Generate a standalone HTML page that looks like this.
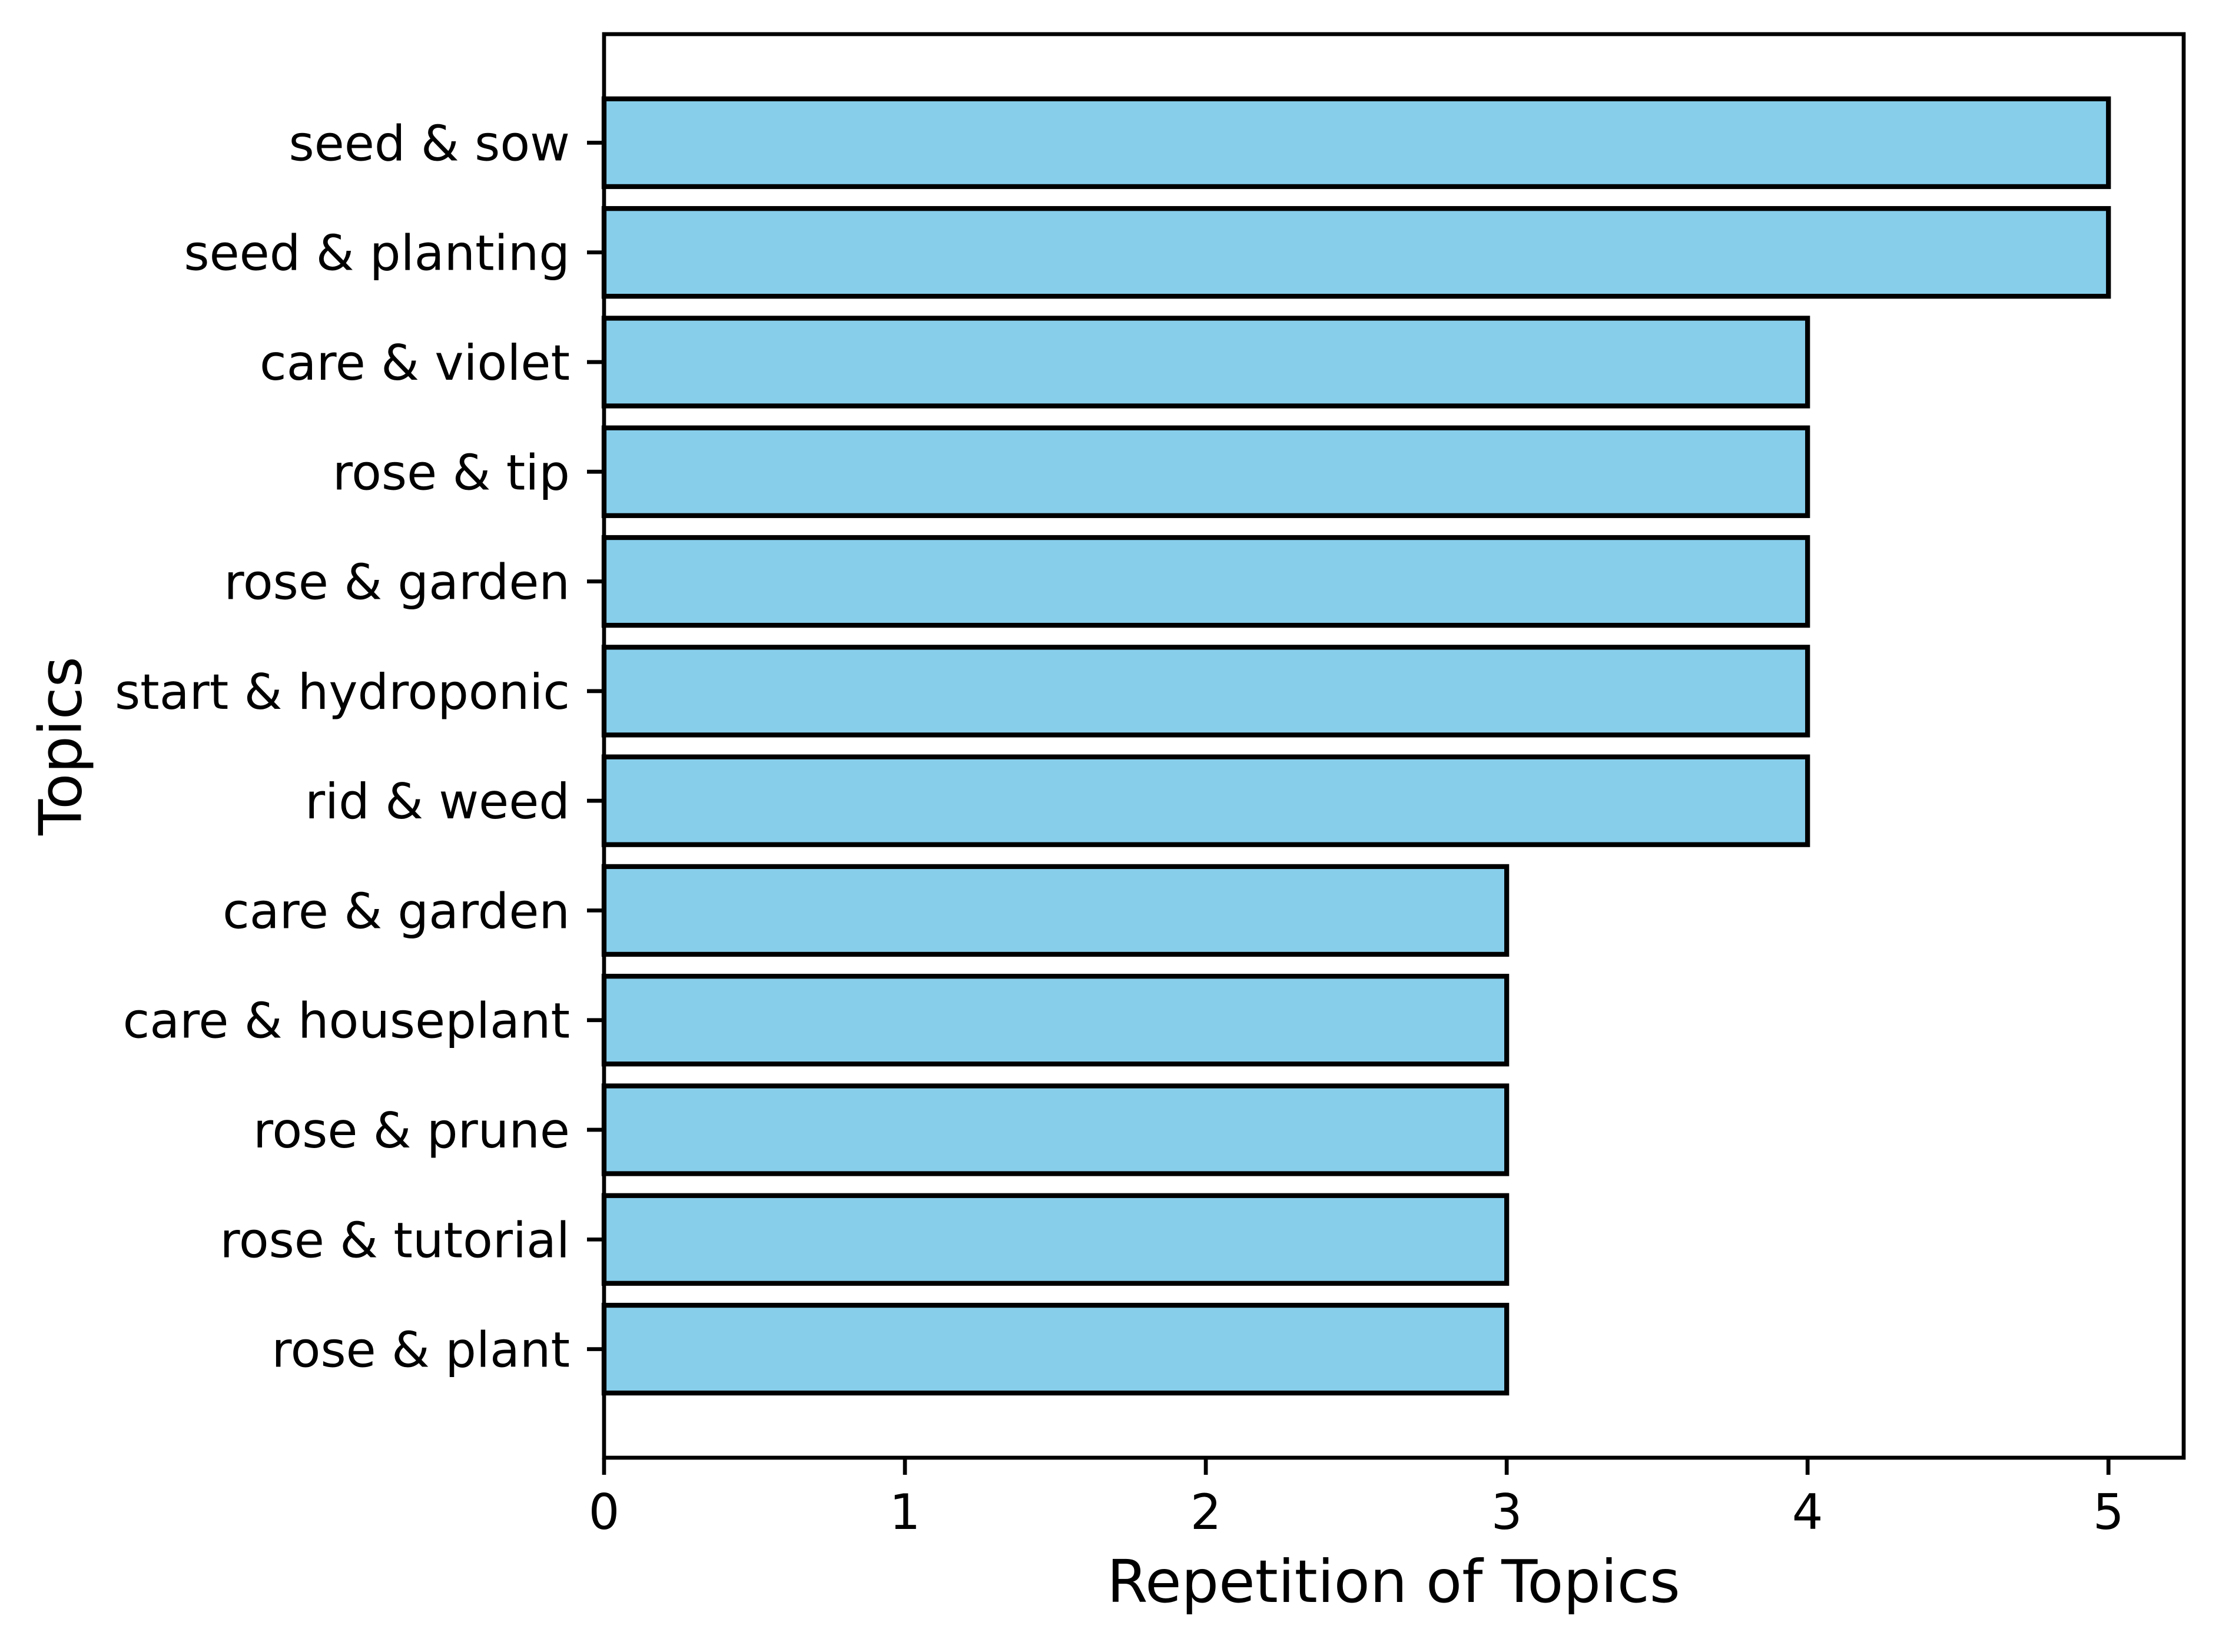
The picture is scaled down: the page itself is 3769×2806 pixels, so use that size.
<!DOCTYPE html>
<html><head><meta charset="utf-8"><style>html,body{margin:0;padding:0;background:#fff}svg{display:block}</style></head>
<body>
<svg id="chart" width="3769" height="2806" viewBox="0 0 3769 2806" xmlns="http://www.w3.org/2000/svg" font-family="'DejaVu Sans','Liberation Sans',sans-serif">
<rect x="0" y="0" width="3769" height="2806" fill="#fff"/>
<g id="bars"></g>
<g id="yticks"></g>
<g id="xticks"></g>
<rect x="1026" y="58" width="2683" height="2418" fill="none" stroke="#000" stroke-width="6.7"/>
<text x="2367" y="2721" font-size="100" text-anchor="middle">Repetition of Topics</text>
<text x="0" y="0" font-size="100" text-anchor="middle" dominant-baseline="central" transform="translate(103,1267) rotate(-90)">Topics</text>
</svg>
<script>
const categories = ["seed & sow","seed & planting","care & violet","rose & tip","rose & garden","start & hydroponic","rid & weed","care & garden","care & houseplant","rose & prune","rose & tutorial","rose & plant"];
const values = [5,5,4,4,4,4,4,3,3,3,3,3];
const xTickLabels = ["0","1","2","3","4","5"];

const NS = "http://www.w3.org/2000/svg";
const plotLeft = 1026, plotRight = 3709, plotTop = 58, plotBottom = 2476;
const xMin = 0, xMax = 5.25;
const nCat = categories.length;
const yMin = -0.4 - 0.59, yMax = (nCat - 1) + 0.4 + 0.59;
function xs(v){ return plotLeft + (v - xMin) / (xMax - xMin) * (plotRight - plotLeft); }
function ys(i){ const pos = (nCat - 1 - i); return plotBottom - (pos - yMin) / (yMax - yMin) * (plotBottom - plotTop); }
const barH = 0.8 * (plotBottom - plotTop) / (yMax - yMin);

const barsG = document.getElementById('bars');
const ytG = document.getElementById('yticks');
categories.forEach((c, i) => {
  const r = document.createElementNS(NS, 'rect');
  
  
  r.setAttribute('x', xs(0)); r.setAttribute('y', ys(i) - barH / 2);
  r.setAttribute('width', xs(values[i]) - xs(0)); r.setAttribute('height', barH);
  r.setAttribute('fill', '#87CEEB'); r.setAttribute('stroke', '#000'); r.setAttribute('stroke-width', '8.3');
  barsG.appendChild(r);
  const l = document.createElementNS(NS, 'line');
  
  
  l.setAttribute('x1', plotLeft - 29); l.setAttribute('x2', plotLeft);
  l.setAttribute('y1', ys(i)); l.setAttribute('y2', ys(i));
  l.setAttribute('stroke', '#000'); l.setAttribute('stroke-width', '6.7');
  ytG.appendChild(l);
  const t = document.createElementNS(NS, 'text');
  
  
  t.setAttribute('x', plotLeft - 58); t.setAttribute('y', ys(i) + 30);
  t.setAttribute('font-size', '83'); t.setAttribute('text-anchor', 'end');
  t.textContent = c;
  ytG.appendChild(t);
});
const xtG = document.getElementById('xticks');
xTickLabels.forEach(lbl => {
  const v = parseFloat(lbl);
  const l = document.createElementNS(NS, 'line');
  
  
  l.setAttribute('x1', xs(v)); l.setAttribute('x2', xs(v));
  l.setAttribute('y1', plotBottom); l.setAttribute('y2', plotBottom + 29);
  l.setAttribute('stroke', '#000'); l.setAttribute('stroke-width', '6.7');
  xtG.appendChild(l);
  const t = document.createElementNS(NS, 'text');
  
  
  t.setAttribute('x', xs(v)); t.setAttribute('y', 2597);
  t.setAttribute('font-size', '83'); t.setAttribute('text-anchor', 'middle');
  t.textContent = lbl;
  xtG.appendChild(t);
});
</script>
</body></html>
